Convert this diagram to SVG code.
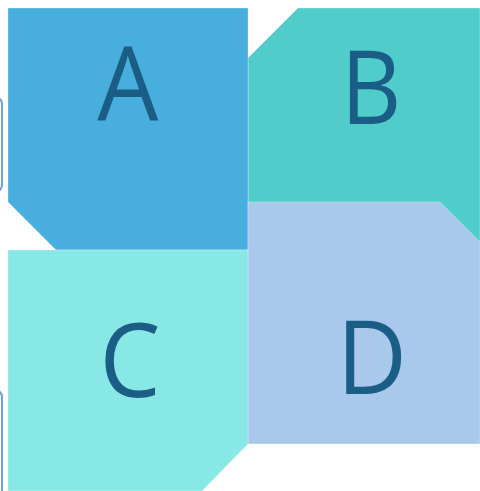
<svg xmlns="http://www.w3.org/2000/svg" width="480" height="491" viewBox="0 0 480 491">
<style>
.t{font-family:"Open Sans","Noto Sans","Liberation Sans",sans-serif;font-size:102px;fill:#1B5E85;text-anchor:middle}
.s{stroke:#ffffff;stroke-opacity:0.3;stroke-width:1}
.o{fill:#ffffff;stroke:#6f9fdc;stroke-width:2}
</style>
<rect width="480" height="491" fill="#ffffff"/>
<g id="left-edges">
<rect class="o" x="-40" y="97" width="42" height="95" rx="7"/>
<rect class="o" x="-40" y="390" width="42" height="120" rx="7"/>
</g>
<g id="B">
<path class="s" d="M298,8 L480,8 L480,250 L248,250 L248,58 Z" fill="#50CCCB"/>
<text class="t" x="371" y="124" transform="translate(371 0) scale(0.92 1) translate(-371 0)">B</text>
</g>
<g id="A">
<path class="s" d="M8,8 L248,8 L248,250 L56,250 L8,202 Z" fill="#47AEDE"/>
<text class="t" x="128" y="120" transform="translate(128 0) scale(0.95 1) translate(-128 0)">A</text>
</g>
<g id="D">
<path class="s" d="M248,202 L440,202 L480,242 L480,444 L248,444 Z" fill="#A8C9EC"/>
<text class="t" x="372" y="394" transform="translate(372 0) scale(0.95 1) translate(-372 0)">D</text>
</g>
<g id="C">
<path class="s" d="M8,250 L248,250 L248,444 L202,491 L8,491 Z" fill="#88E8E6"/>
<text class="t" x="130" y="397" transform="translate(130 0) scale(0.95 1) translate(-130 0)">C</text>
</g>
<g id="connectors"></g>
</svg>
